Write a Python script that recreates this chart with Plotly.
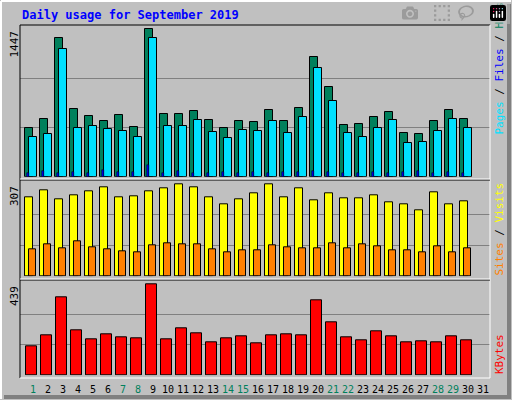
import plotly.graph_objects as go

days = list(range(1, 31))
hits = [475,565,1358,664,595,545,605,484,1447,612,612,641,553,475,545,534,651,545,671,1172,877,504,514,583,632,425,415,545,651,565]
files = [386,415,1250,475,494,465,445,386,1358,494,494,553,435,376,455,445,545,425,583,1064,740,425,386,475,553,327,337,445,563,475]
pages = [40,60,40,45,40,70,45,45,110,40,60,40,40,45,40,45,40,45,50,60,45,40,40,45,40,45,55,40,50,35]
visits = [264,287,257,271,284,297,264,267,284,294,307,297,264,240,257,277,307,264,294,253,277,260,260,271,247,240,220,280,240,250]
sites = [90,107,93,117,97,90,83,80,103,110,107,107,90,80,87,87,103,97,93,93,110,93,107,100,87,87,80,100,80,93]
kbytes = [140,193,376,217,174,198,183,178,439,174,227,203,159,178,188,154,193,198,193,362,256,183,169,212,188,159,164,159,188,169]
day_labels = [str(d) for d in range(1, 32)]
weekend = {1,7,8,14,15,21,22,28,29}

W, H = 512, 400
def px(x): return x / W
def py(y): return 1 - y / H

GREEN = "#00805C"; CYAN = "#00E0FF"; BLUE = "#0000FF"
YEL = "#FFFF00"; ORG = "#FF8000"; RED = "#FF0000"
line = dict(color="black", width=1)

fig = go.Figure()
fig.add_bar(x=days, y=hits, width=0.49, offset=-0.51, marker=dict(color=GREEN, line=line), xaxis="x", yaxis="y")
fig.add_bar(x=days, y=files, width=0.49, offset=-0.25, marker=dict(color=CYAN, line=line), xaxis="x", yaxis="y")
fig.add_bar(x=days, y=pages, width=0.13, offset=-0.38, marker=dict(color=BLUE, line=dict(color="black", width=0.5)), xaxis="x", yaxis="y")
fig.add_bar(x=days, y=visits, width=0.53, offset=-0.51, marker=dict(color=YEL, line=line), xaxis="x2", yaxis="y2")
fig.add_bar(x=days, y=sites, width=0.47, offset=-0.25, marker=dict(color=ORG, line=line), xaxis="x2", yaxis="y2")
fig.add_bar(x=days, y=kbytes, width=0.69, offset=-0.45, marker=dict(color=RED, line=line), xaxis="x3", yaxis="y3")

xr = [1 - 13/15, 1 + (490 - 33) / 15]
xd = [px(20), px(490)]
def xax(anchor):
    return dict(domain=xd, range=xr, showgrid=False, showticklabels=False, zeroline=False, anchor=anchor, fixedrange=True)
def yax(dom, mx, top, anchor):
    return dict(domain=dom, range=[0, top], tickvals=[mx/3, 2*mx/3], showticklabels=False,
                gridcolor="#808080", gridwidth=1, zeroline=False, anchor=anchor, fixedrange=True)

fig.update_layout(
    width=W, height=H, margin=dict(l=0, r=0, t=0, b=0), showlegend=False,
    paper_bgcolor="#C0C0C0", plot_bgcolor="#C0C0C0", barmode="overlay", bargap=0,
    xaxis=xax("y"), xaxis2=xax("y2"), xaxis3=xax("y3"),
    yaxis=yax([py(176.7), py(25)], 1447, 1489, "x"),
    yaxis2=yax([py(276.3), py(180.3)], 307, 320, "x2"),
    yaxis3=yax([py(375.3), py(280.3)], 439, 458, "x3"),
)

shapes = []
def ln(x0, y0, x1, y1, c, w=1):
    shapes.append(dict(type="line", xref="paper", yref="paper", x0=px(x0), y0=py(y0), x1=px(x1), y1=py(y1), line=dict(color=c, width=w)))
ln(1, 1, 511, 1, "white", 2); ln(1, 1, 1, 399, "white", 2)
ln(509, 4, 509, 397, "#808080", 4); ln(4, 397, 511, 397, "#808080", 4)
ln(20, 25, 490, 25, "black"); ln(20, 25, 20, 378, "black")
ln(490, 25, 490, 378, "white"); ln(20, 378, 490, 378, "white")
ln(20, 180, 490, 180, "black"); ln(20, 179, 490, 179, "white")
ln(20, 280, 490, 280, "black"); ln(20, 279, 490, 279, "white")
fig.update_layout(shapes=shapes)

mono = "DejaVu Sans Mono"
ann = [dict(text="<b>Daily usage for September 2019</b>", x=px(20), y=py(15), xanchor="left", yanchor="middle",
            showarrow=False, xref="paper", yref="paper", font=dict(family=mono, size=12, color=BLUE))]
for txt, yy in [("1447", 29), ("307", 184), ("439", 284)]:
    ann.append(dict(text=txt, x=px(14), y=py(yy), xanchor="center", yanchor="top", textangle=-90, showarrow=False,
                    xref="paper", yref="paper", font=dict(family=mono, size=11, color="black")))
right = [
    ("<span style='color:#00E0FF'>Pages</span> / <span style='color:#0000FF'>Files</span> / <span style='color:#00805C'>Hits</span>", 137),
    ("<span style='color:#FF8000'>Sites</span> / <span style='color:#FFFF00'>Visits</span>", 278),
    ("<span style='color:#FF0000'>KBytes</span>", 376),
]
for txt, yy in right:
    ann.append(dict(text=txt, x=px(499), y=py(yy), xanchor="center", yanchor="bottom", textangle=-90, showarrow=False,
                    xref="paper", yref="paper", font=dict(family=mono, size=11, color="black")))
for i, lab in enumerate(day_labels):
    d = i + 1
    ann.append(dict(text=lab, x=d, y=py(389), xref="x3", yref="paper", showarrow=False, xanchor="center", yanchor="middle",
                    font=dict(family=mono, size=10, color=GREEN if d in weekend else "black")))
fig.update_layout(annotations=ann)

fig.write_html("out.html", post_script="document.body.style.margin='0';document.body.style.overflow='hidden';")
